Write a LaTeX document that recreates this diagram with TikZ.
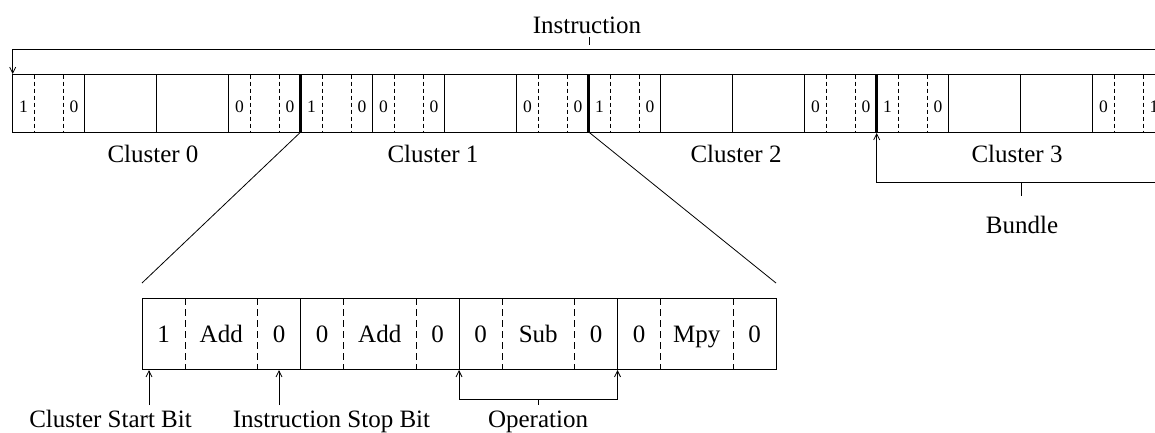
\documentclass[tikz,border=0pt]{standalone}
\usepackage{fontspec}
\setmainfont{Liberation Serif}
\usetikzlibrary{arrows.meta}
\tikzset{
  cellline/.style={line width=0.8pt},
  bitsep/.style={line width=0.8pt, dash pattern=on 4pt off 3pt},
  bigsep/.style={line width=0.8pt, dash pattern=on 7pt off 4pt},
  thickbar/.style={line width=3pt},
  lbl/.style={font=\fontsize{25}{30}\selectfont, anchor=base, inner sep=0pt},
  smalldigit/.style={font=\fontsize{17.5}{20}\selectfont, anchor=base, inner sep=0pt},
  pointer/.style={line width=0.8pt, -{Straight Barb[length=6pt,width=6pt]}},
  ticks/.style={line width=0.7pt},
}
\begin{document}
\begin{tikzpicture}[x=1pt,y=-1pt]
\useasboundingbox (0,0) rectangle (1155,432);
\clip (0,0) rectangle (1155,432);

% ---- top row (instruction)
\draw[cellline] (1170,74.7) -- (12.7,74.7) -- (12.7,132) -- (1170,132);
\foreach \k in {1,...,16} \draw[cellline] ({12.7+72*\k},74.7) -- ++(0,57.3);
\foreach \k in {0,3,4,5,7,8,11,12,15} {
  \draw[bitsep] ({12.7+72*\k+21.5},74.7) -- ++(0,57.3);
  \draw[bitsep] ({12.7+72*\k+50.5},74.7) -- ++(0,57.3);
}
\foreach \k/\a/\b in {0/1/0, 3/0/0, 4/1/0, 5/0/0, 7/0/0, 8/1/0, 11/0/0, 12/1/0, 15/0/1} {
  \node[smalldigit] (ta\k) at ({12.7+72*\k+10.75},112) {\a};
  \node[smalldigit] (tb\k) at ({12.7+72*\k+61.25},112) {\b};
}
\coordinate (s1top) at (300.7,74.7); \coordinate (s1) at (300.7,132);
\coordinate (s2top) at (588.7,74.7); \coordinate (s2) at (588.7,132);
\coordinate (s3top) at (876.7,74.7); \coordinate (s3) at (876.7,132);
\draw[thickbar] (s1top) -- (s1);
\draw[thickbar] (s2top) -- (s2);
\draw[thickbar] (s3top) -- (s3);

% ---- labels of top row
\node[lbl] (instr) at (587,33) {Instruction};
\node[lbl] (cl0) at (153,162) {Cluster 0};
\node[lbl] (cl1) at (433,162) {Cluster 1};
\node[lbl] (cl2) at (736,162) {Cluster 2};
\node[lbl] (cl3) at (1017,162) {Cluster 3};
\node[lbl] (bundle) at (1022,233) {Bundle};

% instruction bracket
\coordinate (insR) at (1170,49);
\coordinate (insL) at (12.7,49);
\coordinate (insTip) at (12.7,74);
\coordinate (insTickA) at (589,37);
\coordinate (insTickB) at (589,45);
\draw[pointer] (insR) -- (insL) -- (insTip);
\draw[ticks] (insTickA) -- (insTickB);

% bundle bracket
\coordinate (bunTip) at (876.7,133);
\coordinate (bunCorner) at (876.7,182);
\coordinate (bunR) at (1170,182);
\coordinate (bunTick) at (1021,182);
\coordinate (bunTickB) at (1021,196);
\draw[pointer] (bunR) -- (bunCorner) -- (bunTip);
\draw[ticks] (bunTick) -- (bunTickB);

% ---- zoom lines
\coordinate (zl) at (142,283);
\coordinate (zr) at (776,283);
\draw[line width=0.8pt] (s1) -- (zl);
\draw[line width=0.8pt] (s2) -- (zr);

% ---- lower row (cluster detail)
\draw[cellline] (142,298) rectangle (776,369);
\foreach \k in {1,2,3} \draw[cellline] ({142+158.5*\k},298) -- ++(0,71);
\foreach \k/\a/\m/\b in {0/1/Add/0, 1/0/Add/0, 2/0/Sub/0, 3/0/Mpy/0} {
  \draw[bigsep] ({142+158.5*\k+43},298) -- ++(0,71);
  \draw[bigsep] ({142+158.5*\k+115.5},298) -- ++(0,71);
  \node[lbl] (la\k) at ({142+158.5*\k+21.5},342) {\a};
  \node[lbl] (lm\k) at ({142+158.5*\k+79.25},342) {\m};
  \node[lbl] (lb\k) at ({142+158.5*\k+137},342) {\b};
}

% ---- bottom labels and pointers
\node[lbl] (csb) at (110.5,427) {Cluster Start Bit};
\node[lbl] (isb) at (331.5,427) {Instruction Stop Bit};
\node[lbl] (opn) at (538,427) {Operation};

\coordinate (csbFoot) at (149,405); \coordinate (csbTip) at (149,370);
\coordinate (isbFoot) at (279,405); \coordinate (isbTip) at (279,370);
\draw[pointer] (csbFoot) -- (csbTip);
\draw[pointer] (isbFoot) -- (isbTip);

\coordinate (opLTip) at (459,370); \coordinate (opL) at (459,399);
\coordinate (opRTip) at (617.5,370); \coordinate (opR) at (617.5,399);
\coordinate (opTick) at (538,399); \coordinate (opTickB) at (538,405);
\draw[line width=0.8pt, {Straight Barb[length=6pt,width=6pt]}-{Straight Barb[length=6pt,width=6pt]}] (opLTip) -- (opL) -- (opR) -- (opRTip);
\draw[ticks] (opTick) -- (opTickB);
\end{tikzpicture}
\end{document}
